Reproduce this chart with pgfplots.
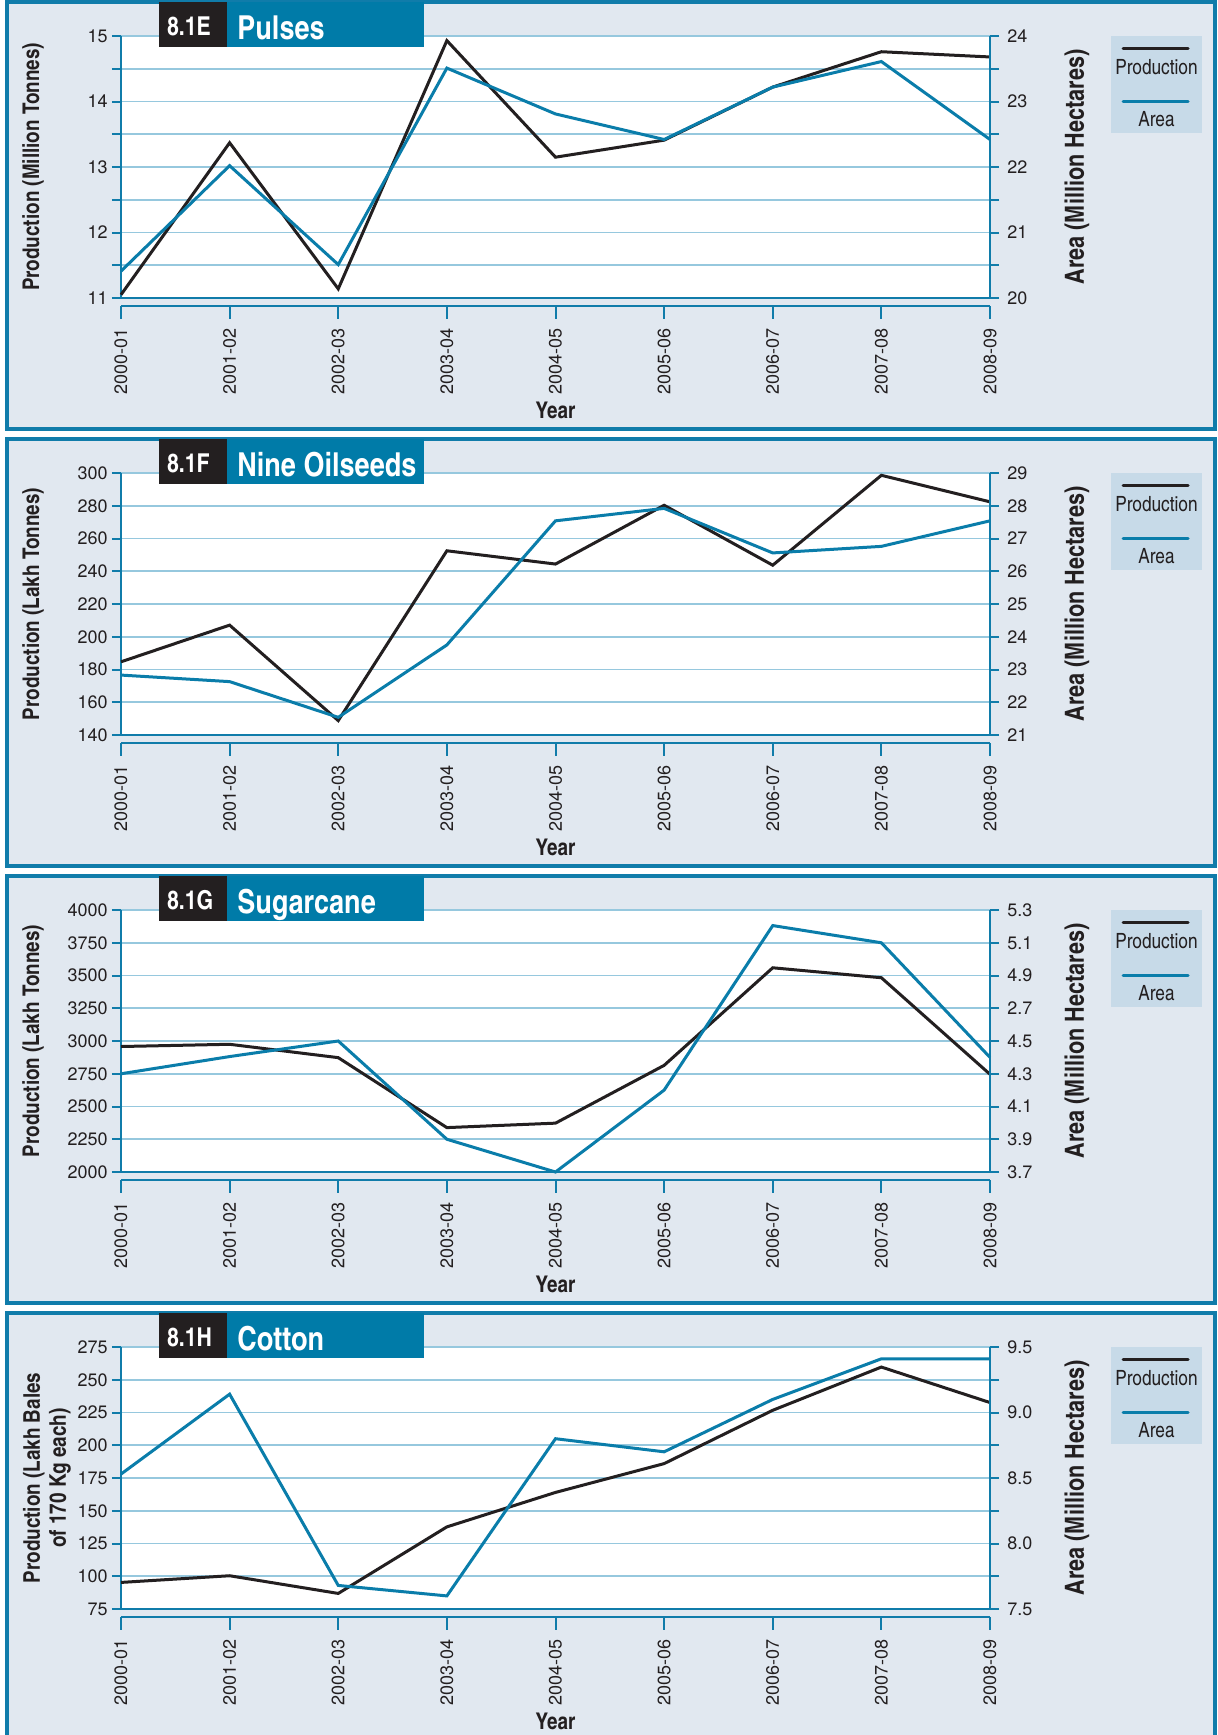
\documentclass[border=0pt]{standalone}
\usepackage{pgfplots}
\pgfplotsset{compat=1.18}
\usepackage{fontspec}
\setmainfont{TeX Gyre Heros}
\newfontfamily\cn{texgyreheroscn}[Extension=.otf, UprightFont=*-regular, BoldFont=*-bold]

\definecolor{panelbg}{RGB}{225,232,240}
\definecolor{framec}{RGB}{16,124,170}
\definecolor{lineblue}{RGB}{10,125,170}
\definecolor{titleblue}{RGB}{0,123,168}
\definecolor{titleblack}{RGB}{35,31,32}
\definecolor{legbg}{RGB}{199,218,232}
\definecolor{gridc}{RGB}{150,200,222}
\definecolor{txt}{RGB}{35,31,32}

\newcommand\lblfont{\cn\bfseries\fontsize{11.5}{13.5}\selectfont}
\newcommand\rlblfont{\cn\bfseries\fontsize{13.2}{15}\selectfont}

\pgfplotsset{
  base/.style={
    scale only axis, width=434.5pt, height=131pt,
    at={(60.5pt,-148pt)}, anchor=south west,
    xmin=0, xmax=8, clip=false,
    axis line style={draw=framec, line width=1pt},
    tick style={draw=framec, line width=1pt},
    tick align=outside, major tick length=4.5pt,
    /pgf/number format/assume math mode=true,
    tick label style={font=\fontsize{9}{10.8}\selectfont, text=txt},
  },
  leftax/.style={base,
    axis x line*=bottom, axis y line*=left,
    xtick={0,...,8},
    xticklabels={2000-01,2001-02,2002-03,2003-04,2004-05,2005-06,2006-07,2007-08,2008-09},
    x tick label style={rotate=90, anchor=east, inner sep=0pt},
    xticklabel shift=10.5pt,
    major x tick style={draw=none},
    ymajorgrids, major grid style={draw=gridc, line width=0.9pt},
    axis background/.style={fill=white},
    y tick label style={anchor=east, inner sep=0pt},
    yticklabel shift=2pt,
    xlabel={Year},
    every axis x label/.style={at={(axis description cs:0.5,-0.4275)}, anchor=center, font=\lblfont, text=txt},
    every axis y label/.style={at={(axis description cs:-0.1013,0.5)}, rotate=90, anchor=center, font=\lblfont, text=txt, align=center},
  },
  rightax/.style={base,
    axis x line=none, axis y line*=right,
    y tick label style={anchor=west, inner sep=0pt},
    yticklabel shift=4pt,
    ylabel={Area (Million Hectares)},
    every axis y label/.style={at={(axis description cs:1.1001,0.5)}, rotate=90, anchor=center, font=\rlblfont, text=txt},
  },
  prod/.style={color=titleblack, line width=1.5pt, line join=miter, mark=none},
  area/.style={color=lineblue, line width=1.5pt, line join=miter, mark=none},
}

\newcommand\panelbg{%
  \fill[panelbg] (3.5pt,0pt) rectangle (607.5pt,-213.5pt);
}
\newcommand\paneldeco[2]{%
  \draw[framec, line width=1.6pt] (3.5pt,0pt) rectangle (607.5pt,-213.5pt);
  \fill[titleblack] (79.5pt,0pt) rectangle (113.5pt,-22.5pt);
  \fill[titleblue] (113.5pt,0pt) rectangle (212pt,-22.5pt);
  \node[anchor=base west, inner sep=0pt, text=white, font=\cn\bfseries\fontsize{13}{15}\selectfont] at (83.3pt,-16.5pt) {#1};
  \node[anchor=base west, inner sep=0pt, text=white, font=\cn\bfseries\fontsize{16.5}{18}\selectfont] at (118.5pt,-18.7pt) {#2};
  % offset x axis
  \draw[framec, line width=1pt] (60.5pt,-152pt) -- (495pt,-152pt);
  \foreach \k in {0,...,8} {\draw[framec, line width=1pt] (60.5pt+54.3125pt*\k,-152pt) -- ++(0,-6.5pt);}
  % legend
  \fill[legbg] (555.5pt,-17pt) rectangle (601pt,-65.5pt);
  \draw[titleblack, line width=1.5pt, line cap=round] (561.5pt,-23pt) -- (594pt,-23pt);
  \node[font=\cn\fontsize{10.5}{12}\selectfont, text=txt] at (578.25pt,-32.5pt) {Production};
  \draw[lineblue, line width=1.5pt, line cap=round] (561.5pt,-49.5pt) -- (594pt,-49.5pt);
  \node[font=\cn\fontsize{10.5}{12}\selectfont, text=txt] at (578.25pt,-58.5pt) {Area};
}

\begin{document}
\begin{tikzpicture}
\useasboundingbox (0pt,0pt) rectangle (609pt,-867.5pt);

% ---------- 8.1E Pulses ----------
\begin{scope}[yshift=-1pt]
\panelbg
\begin{axis}[leftax, ymin=11, ymax=15,
  ytick={11,11.5,...,15}, yticklabels={11,,12,,13,,14,,15},
  ylabel={Production (Million Tonnes)}]
\addplot[prod] coordinates {(0,11.05) (1,13.37) (2,11.14) (3,14.93) (4,13.15) (5,13.41) (6,14.22) (7,14.76) (8,14.68)};
\end{axis}
\begin{axis}[rightax, ymin=20, ymax=24,
  ytick={20,20.5,...,24}, yticklabels={20,,21,,22,,23,,24}]
\addplot[area] coordinates {(0,20.41) (1,22.02) (2,20.51) (3,23.51) (4,22.81) (5,22.42) (6,23.22) (7,23.61) (8,22.42)};
\end{axis}
\paneldeco{8.1E}{Pulses}
\end{scope}

% ---------- 8.1F Nine Oilseeds ----------
\begin{scope}[yshift=-219.5pt]
\panelbg
\begin{axis}[leftax, ymin=140, ymax=300,
  ytick={140,160,...,300},
  ylabel={Production (Lakh Tonnes)}]
\addplot[prod] coordinates {(0,184.7) (1,207.1) (2,148.8) (3,252.5) (4,244.4) (5,280.3) (6,243.7) (7,298.6) (8,282.4)};
\end{axis}
\begin{axis}[rightax, ymin=21, ymax=29,
  ytick={21,22,...,29}]
\addplot[area] coordinates {(0,22.83) (1,22.63) (2,21.54) (3,23.75) (4,27.54) (5,27.92) (6,26.56) (7,26.76) (8,27.54)};
\end{axis}
\paneldeco{8.1F}{Nine Oilseeds}
\end{scope}

% ---------- 8.1G Sugarcane ----------
\begin{scope}[yshift=-438pt]
\panelbg
\begin{axis}[leftax, ymin=2000, ymax=4000,
  ytick={2000,2250,...,4000},
  yticklabels={2000,2250,2500,2750,3000,3250,3500,3750,4000},
  ylabel={Production (Lakh Tonnes)}]
\addplot[prod] coordinates {(0,2958) (1,2975) (2,2873) (3,2339) (4,2373) (5,2814) (6,3559) (7,3483) (8,2746)};
\end{axis}
\begin{axis}[rightax, ymin=3.7, ymax=5.3,
  ytick={3.7,3.9,4.1,4.3,4.5,4.7,4.9,5.1,5.3},
  yticklabels={3.7,3.9,4.1,4.3,4.5,2.7,4.9,5.1,5.3}]
\addplot[area] coordinates {(0,4.30) (1,4.405) (2,4.50) (3,3.90) (4,3.70) (5,4.20) (6,5.205) (7,5.10) (8,4.40)};
\end{axis}
\paneldeco{8.1G}{Sugarcane}
\end{scope}

% ---------- 8.1H Cotton ----------
\begin{scope}[yshift=-656.5pt]
\panelbg
\begin{axis}[leftax, ymin=75, ymax=275,
  ytick={75,100,...,275},
  ylabel={Production (Lakh Bales\\of 170 Kg each)},
  every axis y label/.append style={at={(axis description cs:-0.0852,0.5)}, font=\cn\bfseries\fontsize{11.5}{13}\selectfont}]
\addplot[prod] coordinates {(0,95.3) (1,100.4) (2,86.9) (3,137.7) (4,164.0) (5,186.0) (6,226.7) (7,259.7) (8,232.6)};
\end{axis}
\begin{axis}[rightax, ymin=7.5, ymax=9.5,
  ytick={7.5,7.75,...,9.5}, yticklabels={7.5,,8.0,,8.5,,9.0,,9.5}]
\addplot[area] coordinates {(0,8.53) (1,9.14) (2,7.68) (3,7.60) (4,8.80) (5,8.70) (6,9.10) (7,9.41) (8,9.41)};
\end{axis}
\paneldeco{8.1H}{Cotton}
\end{scope}
\end{tikzpicture}
\end{document}
